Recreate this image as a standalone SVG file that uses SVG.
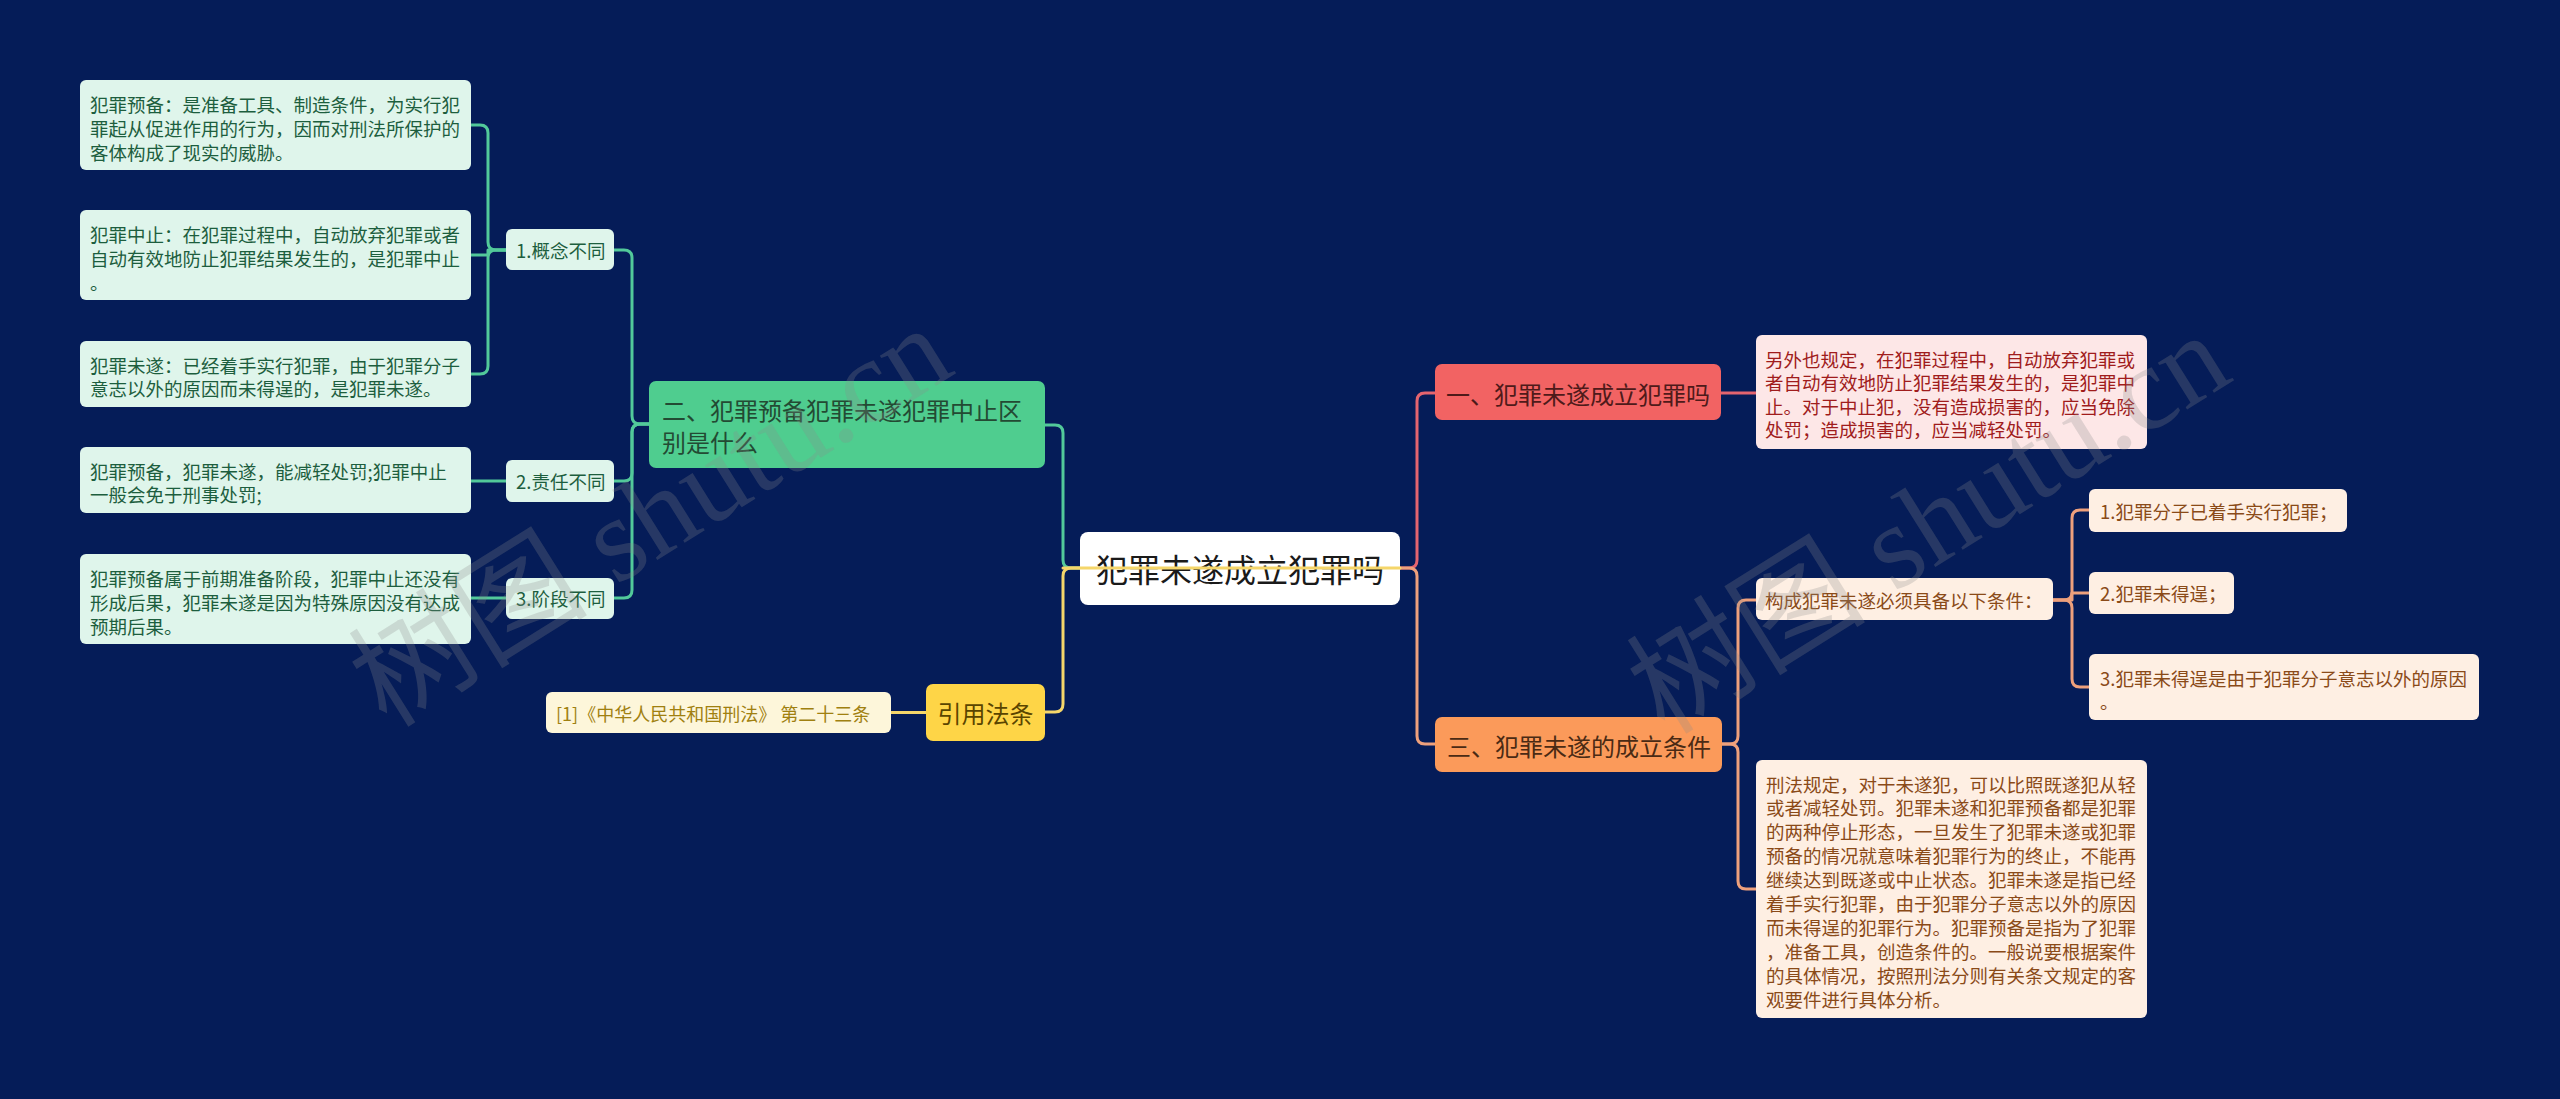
<svg xmlns="http://www.w3.org/2000/svg" width="2560" height="1099" viewBox="0 0 2560 1099">
<style>
text{font-family:"Noto Sans CJK SC","Noto Sans",sans-serif;dominant-baseline:central}
.c{fill:none;stroke-width:3;stroke-linejoin:round;stroke-linecap:round}
.cg{stroke:#52c99a}.cy{stroke:#f5d66a}.cr{stroke:#e4646f}.co{stroke:#eea07c}
.lg{fill:#dff5eb}.lgt{fill:#1d5e3e;font-size:18.5px}
.lp{fill:#fde7e7}.lpt{fill:#a01c1c;font-size:18.5px}
.lo{fill:#feefe3}.lot{fill:#8a4a18;font-size:18.5px}
.ly{fill:#fdf6da}.lyt{fill:#a08010;font-size:18px}
.main{font-size:24px}
.wm{font-family:"Liberation Serif","Noto Sans CJK SC",serif;font-size:120px;fill:#8a8a8a;fill-opacity:0.26;dominant-baseline:auto}
</style>
<rect x="0" y="0" width="2560" height="1099" fill="#051c58"/>

<g id="connectors">
<path class="c cg" d="M506,250 H496 Q488,250 488,242 V133 Q488,125 480,125 H471"/>
<path class="c cg" d="M506,250 H488 V255 H471"/>
<path class="c cg" d="M506,250 H496 Q488,250 488,258 V366 Q488,374 480,374 H471"/>
<path class="c cg" d="M506,481 H471"/>
<path class="c cg" d="M506,598 H471"/>
<path class="c cg" d="M649,424 H640 Q632,424 632,416 V258 Q632,250 624,250 H614"/>
<path class="c cg" d="M649,424 H640 Q632,424 632,432 V473 Q632,481 624,481 H614"/>
<path class="c cg" d="M649,424 H640 Q632,424 632,432 V590 Q632,598 624,598 H614"/>
<path class="c cg" d="M1080,568 H1071 Q1063,568 1063,560 V433 Q1063,425 1055,425 H1045"/>
<path class="c cy" d="M1080,568 H1071 Q1063,568 1063,576 V704 Q1063,712 1055,712 H1045"/>
<path class="c cy" d="M891,712.5 H926"/>
<path class="c cr" d="M1400,568 H1409 Q1417,568 1417,560 V401 Q1417,393 1425,393 H1435"/>
<path class="c co" d="M1400,568 H1409 Q1417,568 1417,576 V736 Q1417,744 1425,744 H1435"/>
<path class="c cr" d="M1721,393 H1756"/>
<path class="c co" d="M1722,744 H1730 Q1738,744 1738,736 V608 Q1738,600 1746,600 H1756"/>
<path class="c co" d="M1722,744 H1730 Q1738,744 1738,752 V881 Q1738,889 1746,889 H1756"/>
<path class="c co" d="M2053,600 H2064 Q2072,600 2072,592 V518 Q2072,510 2080,510 H2089"/>
<path class="c co" d="M2053,600 H2072 V593 H2089"/>
<path class="c co" d="M2053,600 H2064 Q2072,600 2072,608 V679 Q2072,687 2080,687 H2089"/>
</g>

<g id="center">
<rect x="1080" y="532" width="320" height="73" rx="8" fill="#ffffff"/>
<text x="1240" y="568" text-anchor="middle" font-size="32" fill="#1a1a1a">犯罪未遂成立犯罪吗</text>
</g>
<path class="c cy" d="M1063,568 H1400" id="center-line"/>

<g id="n-diff">
<rect x="649" y="381" width="396" height="87" rx="7" fill="#4fcd8f"/>
<text class="main" x="662" y="409" fill="#234a33" font-size="23.7">二、犯罪预备犯罪未遂犯罪中止区</text>
<text class="main" x="662" y="441" fill="#234a33" font-size="23.7">别是什么</text>
</g>
<g id="m1">
<rect class="lg" x="506" y="229" width="108" height="41" rx="6"/>
<text class="lgt" x="516" y="250">1.概念不同</text>
</g>
<g id="m2">
<rect class="lg" x="506" y="460" width="108" height="42" rx="6"/>
<text class="lgt" x="516" y="481">2.责任不同</text>
</g>
<g id="m3">
<rect class="lg" x="506" y="578" width="108" height="41" rx="6"/>
<text class="lgt" x="516" y="598">3.阶段不同</text>
</g>
<g id="l1">
<rect class="lg" x="80" y="80" width="391" height="90" rx="6"/>
<text class="lgt" x="90" y="104">犯罪预备：是准备工具、制造条件，为实行犯</text>
<text class="lgt" x="90" y="128">罪起从促进作用的行为，因而对刑法所保护的</text>
<text class="lgt" x="90" y="152">客体构成了现实的威胁。</text>
</g>
<g id="l2">
<rect class="lg" x="80" y="210" width="391" height="90" rx="6"/>
<text class="lgt" x="90" y="233.5">犯罪中止：在犯罪过程中，自动放弃犯罪或者</text>
<text class="lgt" x="90" y="257.5">自动有效地防止犯罪结果发生的，是犯罪中止</text>
<text class="lgt" x="90" y="281.5">。</text>
</g>
<g id="l3">
<rect class="lg" x="80" y="341" width="391" height="66" rx="6"/>
<text class="lgt" x="90" y="364.5">犯罪未遂：已经着手实行犯罪，由于犯罪分子</text>
<text class="lgt" x="90" y="388">意志以外的原因而未得逞的，是犯罪未遂。</text>
</g>
<g id="l4">
<rect class="lg" x="80" y="447" width="391" height="66" rx="6"/>
<text class="lgt" x="90" y="470.5">犯罪预备，犯罪未遂，能减轻处罚;犯罪中止</text>
<text class="lgt" x="90" y="494">一般会免于刑事处罚;</text>
</g>
<g id="l5">
<rect class="lg" x="80" y="554" width="391" height="90" rx="6"/>
<text class="lgt" x="90" y="577.5">犯罪预备属于前期准备阶段，犯罪中止还没有</text>
<text class="lgt" x="90" y="601.5">形成后果，犯罪未遂是因为特殊原因没有达成</text>
<text class="lgt" x="90" y="625.5">预期后果。</text>
</g>

<g id="n-law">
<rect x="926" y="684" width="119" height="57" rx="7" fill="#fed547"/>
<text class="main" x="985.5" y="712.5" text-anchor="middle" fill="#5a4500">引用法条</text>
</g>
<g id="law1">
<rect class="ly" x="546" y="692" width="345" height="41" rx="6"/>
<text class="lyt" x="556" y="712.5">[1]《中华人民共和国刑法》 第二十三条</text>
</g>

<g id="n-one">
<rect x="1435" y="364" width="286" height="56" rx="7" fill="#f26363"/>
<text class="main" x="1446" y="393" fill="#4e1a1a">一、犯罪未遂成立犯罪吗</text>
</g>
<g id="one1">
<rect class="lp" x="1756" y="335" width="391" height="114" rx="6"/>
<text class="lpt" x="1765" y="358.5">另外也规定，在犯罪过程中，自动放弃犯罪或</text>
<text class="lpt" x="1765" y="382">者自动有效地防止犯罪结果发生的，是犯罪中</text>
<text class="lpt" x="1765" y="405.5">止。对于中止犯，没有造成损害的，应当免除</text>
<text class="lpt" x="1765" y="429">处罚；造成损害的，应当减轻处罚。</text>
</g>

<g id="n-three">
<rect x="1435" y="717" width="287" height="55" rx="7" fill="#fb9a5a"/>
<text class="main" x="1447" y="745" fill="#4a2a14">三、犯罪未遂的成立条件</text>
</g>
<g id="three1">
<rect class="lo" x="1756" y="578" width="297" height="42" rx="6"/>
<text class="lot" x="1765" y="600">构成犯罪未遂必须具备以下条件：</text>
</g>
<g id="c1">
<rect class="lo" x="2089" y="489" width="258" height="43" rx="6"/>
<text class="lot" x="2100" y="510.5">1.犯罪分子已着手实行犯罪；</text>
</g>
<g id="c2">
<rect class="lo" x="2089" y="572" width="145" height="42" rx="6"/>
<text class="lot" x="2100" y="593">2.犯罪未得逞；</text>
</g>
<g id="c3">
<rect class="lo" x="2089" y="654" width="390" height="66" rx="6"/>
<text class="lot" x="2100" y="677.5">3.犯罪未得逞是由于犯罪分子意志以外的原因</text>
<text class="lot" x="2100" y="701">。</text>
</g>
<g id="three2">
<rect class="lo" x="1756" y="760" width="391" height="258" rx="6"/>
<text class="lot" x="1766" y="783.5">刑法规定，对于未遂犯，可以比照既遂犯从轻</text>
<text class="lot" x="1766" y="807.4">或者减轻处罚。犯罪未遂和犯罪预备都是犯罪</text>
<text class="lot" x="1766" y="831.3">的两种停止形态，一旦发生了犯罪未遂或犯罪</text>
<text class="lot" x="1766" y="855.2">预备的情况就意味着犯罪行为的终止，不能再</text>
<text class="lot" x="1766" y="879.1">继续达到既遂或中止状态。犯罪未遂是指已经</text>
<text class="lot" x="1766" y="903">着手实行犯罪，由于犯罪分子意志以外的原因</text>
<text class="lot" x="1766" y="926.9">而未得逞的犯罪行为。犯罪预备是指为了犯罪</text>
<text class="lot" x="1766" y="950.8">，准备工具，创造条件的。一般说要根据案件</text>
<text class="lot" x="1766" y="974.7">的具体情况，按照刑法分则有关条文规定的客</text>
<text class="lot" x="1766" y="998.6">观要件进行具体分析。</text>
</g>

<g id="watermark">
<text class="wm" transform="translate(650,515) rotate(-32)" x="0" y="42" text-anchor="middle">树图 shutu.cn</text>
<text class="wm" transform="translate(1928,522) rotate(-32)" x="0" y="42" text-anchor="middle">树图 shutu.cn</text>
</g>
</svg>
